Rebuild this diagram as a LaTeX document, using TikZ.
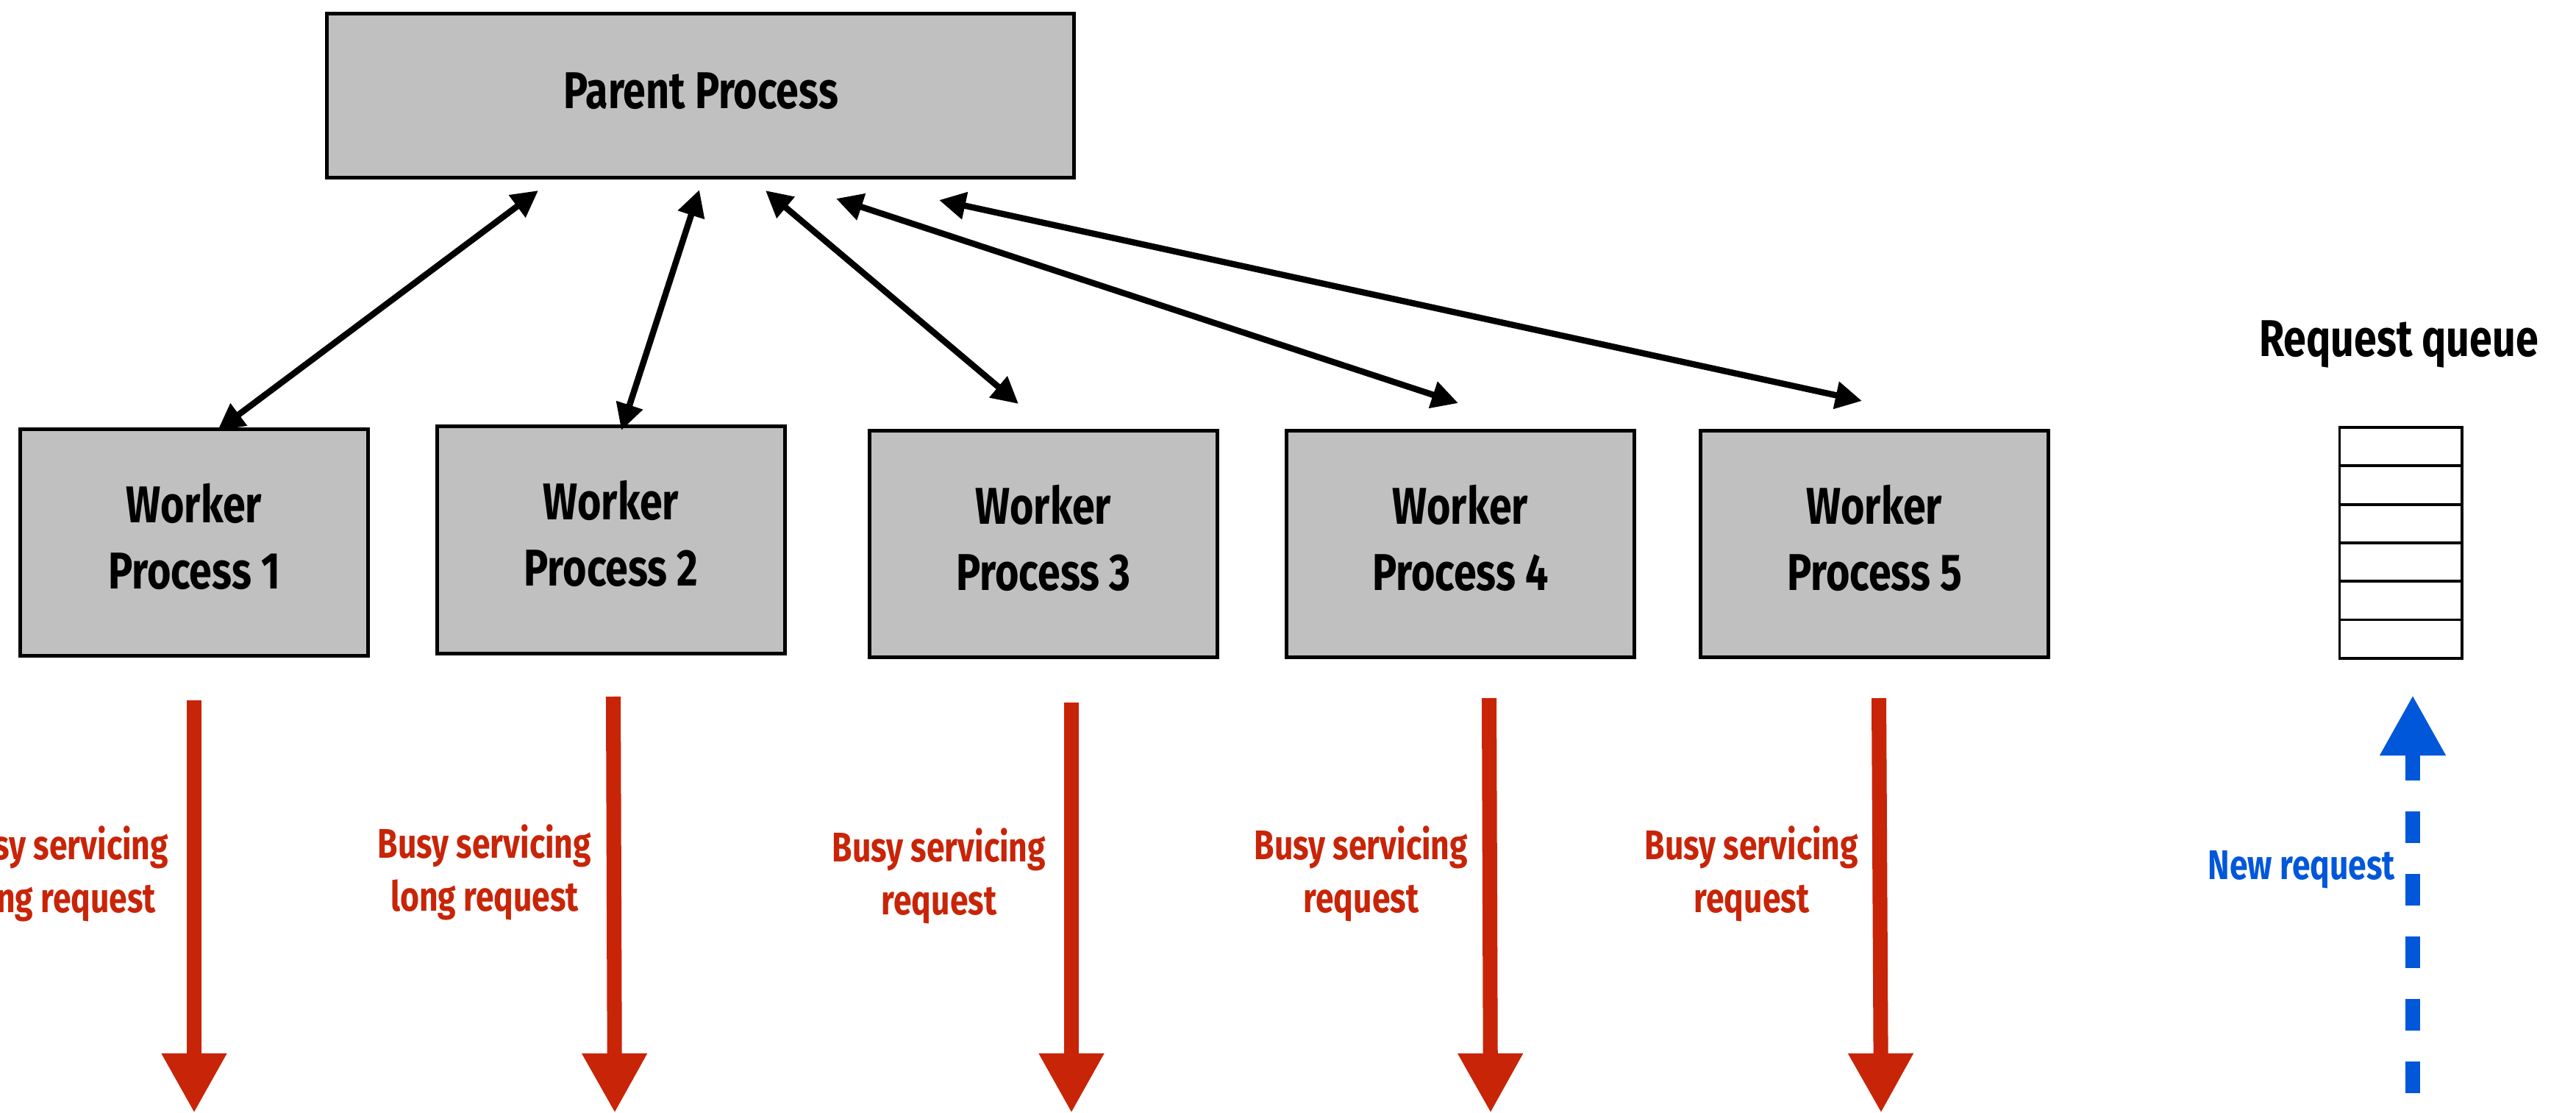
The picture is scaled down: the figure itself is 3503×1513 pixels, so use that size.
\documentclass[tikz,border=0pt]{standalone}
\usepackage{fontspec}
\setmainfont{Fira Sans}[FakeStretch=0.79]
\usetikzlibrary{arrows.meta}
\definecolor{boxgray}{RGB}{192,192,192}
\definecolor{busyred}{RGB}{200,36,8}
\definecolor{newblue}{RGB}{0,87,217}
\begin{document}
\begin{tikzpicture}[x=0.01cm,y=-0.01cm,
  proc/.style={draw=black, line width=1.4pt, fill=boxgray, align=center,
    inner sep=0pt, text depth=0.18cm, font=\bfseries\fontsize{20}{25.6}\selectfont},
  link/.style={line width=2.4pt,
    {Triangle[length=0.36cm,width=0.36cm]}-{Triangle[length=0.36cm,width=0.36cm]}},
  busy/.style={draw=busyred, line width=5.7pt,
    -{Triangle[length=0.81cm,width=0.83cm]}},
  busylabel/.style={text=busyred, align=center, anchor=base, inner sep=0pt,
    font=\bfseries\fontsize{16}{20.2}\selectfont},
  cell/.style={draw=black, line width=1.1pt, fill=white,
    minimum width=1.66cm, minimum height=0.523cm, inner sep=0pt}]
\useasboundingbox (0,0) rectangle (3503,1513);

% parent and worker processes
\node[proc, minimum width=10.16cm, minimum height=2.23cm] (parent) at (952.5,130) {};
\node[anchor=base, inner sep=0pt, font=\bfseries\fontsize{20}{25.6}\selectfont] (ptext) at (953,148) {Parent Process};
\node[proc, minimum width=4.73cm, minimum height=3.08cm] (w1) at (264,737.5) {Worker\\Process 1};
\node[proc, minimum width=4.73cm, minimum height=3.08cm] (w2) at (831,734) {Worker\\Process 2};
\node[proc, minimum width=4.73cm, minimum height=3.08cm] (w3) at (1419,739.5) {Worker\\Process 3};
\node[proc, minimum width=4.73cm, minimum height=3.08cm] (w4) at (1986,739.5) {Worker\\Process 4};
\node[proc, minimum width=4.73cm, minimum height=3.08cm] (w5) at (2549,739.5) {Worker\\Process 5};

% end points of the parent/worker links
\coordinate (p1) at (732,259);  \coordinate (c1) at (296,585);
\coordinate (p2) at (951,258);  \coordinate (c2) at (845,585);
\coordinate (p3) at (1041,259); \coordinate (c3) at (1385,549);
\coordinate (p4) at (1137,270); \coordinate (c4) at (1983,548);
\coordinate (p5) at (1277,272); \coordinate (c5) at (2532,545);
\foreach \i in {1,...,5} \draw[link] (p\i) -- (c\i);

% request queue
\node[anchor=base, inner sep=0pt, font=\bfseries\fontsize{20}{25.6}\selectfont] (qtitle) at (3262,485) {Request queue};
\foreach \i in {1,...,6}
  \node[cell] (q\i) at (3264.5,{581+52.3*(\i-0.5)}) {};

% busy workers
\coordinate (b1s) at (264,952);  \coordinate (b1e) at (264,1513);
\coordinate (b2s) at (834,947);  \coordinate (b2e) at (836,1513);
\coordinate (b3s) at (1457,955); \coordinate (b3e) at (1457,1513);
\coordinate (b4s) at (2025,949); \coordinate (b4e) at (2027,1513);
\coordinate (b5s) at (2555,949); \coordinate (b5e) at (2558,1513);
\foreach \i in {1,...,5} \draw[busy] (b\i s) -- (b\i e);

% labels: the base anchor sits on the second line
\node[busylabel] (l1) at (84,1240)  {Busy servicing\\long request};
\node[busylabel] (l2) at (659,1238) {Busy servicing\\long request};
\node[busylabel] (l3) at (1277,1243) {Busy servicing\\request};
\node[busylabel] (l4) at (1851,1240) {Busy servicing\\request};
\node[busylabel] (l5) at (2382,1240) {Busy servicing\\request};

% incoming request: dashed shaft up to the base of a solid head
\coordinate (ns) at (3281,1486);
\coordinate (nb) at (3281,1026);
\coordinate (ne) at (3281,945);
\draw[draw=newblue, line width=5.7pt, dash pattern=on 0.43cm off 0.42cm] (ns) -- (nb);
\draw[draw=newblue, line width=5.7pt, -{Triangle[length=0.82cm,width=0.84cm]}] (nb) -- (ne);
\node[text=newblue, anchor=base, inner sep=0pt,
  font=\bfseries\fontsize{16}{20.2}\selectfont] (newreq) at (3130,1195) {New request};
\end{tikzpicture}
\end{document}
